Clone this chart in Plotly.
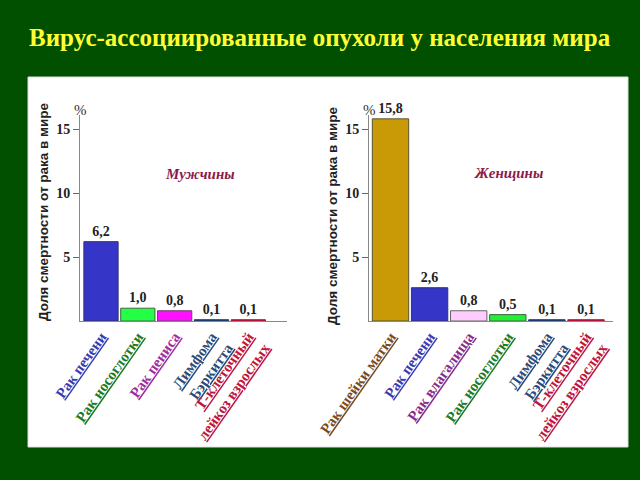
import plotly.graph_objects as go

# ---- data ----
title = "Вирус-ассоциированные опухоли у населения мира"
y_title = "Доля смертности от рака в мире"

men_categories = ["Рак печени", "Рак носоглотки", "Рак пениса",
                  "Лимфома<br>Бэркитта", "Т-клеточный<br>лейкоз взрослых"]
men_values = [6.2, 1.0, 0.8, 0.1, 0.1]

women_categories = ["Рак шейки матки", "Рак печени", "Рак влагалища", "Рак носоглотки",
                    "Лимфома<br>Бэркитта", "Т-клеточный<br>лейкоз взрослых"]
women_values = [15.8, 2.6, 0.8, 0.5, 0.1, 0.1]

y_ticks = [5, 10, 15]

# ---- styles ----
men_bar_colors = ["#3535c8", "#22ff44", "#ff10ff", "#1c3c6c", "#b01438"]
men_line_colors = ["#333366", "#446644", "#664466", "#1c3c6c", "#b01438"]
men_label_colors = ["#3a3ab0", "#1d7a1d", "#a02ca0", "#2b4a7a", "#c0143c"]

women_bar_colors = ["#c99a06", "#3535c8", "#ffccff", "#22ee33", "#1c3c6c", "#b01438"]
women_line_colors = ["#555533", "#333366", "#666666", "#446644", "#1c3c6c", "#b01438"]
women_label_colors = ["#7a4a1a", "#3a3ab0", "#8a2a8a", "#1d7a1d", "#2b4a7a", "#c0143c"]

serif = "Times New Roman"
sans = "Liberation Sans"


def fmt(v):
    return f"{v:.1f}".replace(".", ",")


def colored(cats, cols):
    return [f'<b><span style="color:{c};text-decoration:underline dotted #333333">{t}</span></b>'
            for t, c in zip(cats, cols)]


fig = go.Figure()

fig.add_trace(go.Bar(
    x=men_categories, y=men_values, xaxis="x", yaxis="y",
    marker=dict(color=men_bar_colors, line=dict(color=men_line_colors, width=1)),
    text=[fmt(v) for v in men_values], texttemplate="<b>%{text}</b>",
    textposition="outside", cliponaxis=False,
    textfont=dict(family=serif, size=14, color="#222222"),
    showlegend=False,
))
fig.add_trace(go.Bar(
    x=women_categories, y=women_values, xaxis="x2", yaxis="y2",
    marker=dict(color=women_bar_colors, line=dict(color=women_line_colors, width=1)),
    text=[fmt(v) for v in women_values], texttemplate="<b>%{text}</b>",
    textposition="outside", cliponaxis=False,
    textfont=dict(family=serif, size=14, color="#222222"),
    showlegend=False,
))

W, H = 640, 480
def px(x): return x / W
def py(y): return 1 - y / H

y0, y1 = py(321), py(115)
ymax = 16.1

common_y = dict(range=[0, ymax], tickvals=y_ticks, ticktext=[f"<b>{t}</b>" for t in y_ticks],
                ticks="outside", ticklen=6, automargin=False,
                tickcolor="#666666", showline=True, linecolor="#888888", linewidth=1,
                showgrid=False, zeroline=False,
                tickfont=dict(family=serif, size=14, color="#222222"))
common_x = dict(type="category", showline=True, linecolor="#888888", linewidth=1,
                showgrid=False, zeroline=False, ticks="", tickangle=-55, automargin=False,
                tickfont=dict(family=serif, size=15))

fig.update_layout(
    width=W, height=H,
    margin=dict(l=0, r=0, t=0, b=0),
    paper_bgcolor="#015000",
    plot_bgcolor="rgba(0,0,0,0)",
    bargap=0.07,
    xaxis=dict(domain=[px(80), px(287)], range=[-0.57, 5.05],
               tickvals=men_categories,
               ticktext=colored(men_categories, men_label_colors),
               anchor="y", **common_x),
    yaxis=dict(domain=[y0, y1], anchor="x", **common_y),
    xaxis2=dict(domain=[px(369), px(613)], range=[-0.55, 5.69],
                tickvals=women_categories,
                ticktext=colored(women_categories, women_label_colors),
                anchor="y2", **common_x),
    yaxis2=dict(domain=[y0, y1], anchor="x2", **common_y),
    shapes=[dict(type="rect", xref="paper", yref="paper",
                 x0=px(28), x1=px(628), y0=py(447), y1=py(77),
                 fillcolor="white", line=dict(color="#dddddd", width=1), layer="below")],
)

ann = [
    dict(text=f"<b>{title}</b>", x=0.5, y=py(37), font=dict(family=serif, size=25, color="#ffff33")),
    dict(text=f"<b>{y_title}</b>", x=px(43), y=py(212), textangle=-90,
         font=dict(family=sans, size=13.5, color="#222222")),
    dict(text=f"<b>{y_title}</b>", x=px(333), y=py(216), textangle=-90,
         font=dict(family=sans, size=13.5, color="#222222")),
    dict(text="%", x=px(80), y=py(110), font=dict(family=serif, size=15, color="#333333")),
    dict(text="%", x=px(369), y=py(110), font=dict(family=serif, size=15, color="#333333")),
    dict(text="<b><i>Мужчины</i></b>", x=px(200), y=py(174),
         font=dict(family=serif, size=15, color="#8b1a4a")),
    dict(text="<b><i>Женщины</i></b>", x=px(508), y=py(173),
         font=dict(family=serif, size=15, color="#8b1a4a")),
]
for a in ann:
    a.update(xref="paper", yref="paper", showarrow=False, xanchor="center", yanchor="middle")
    fig.add_annotation(**a)

fig.write_html("out.html")
